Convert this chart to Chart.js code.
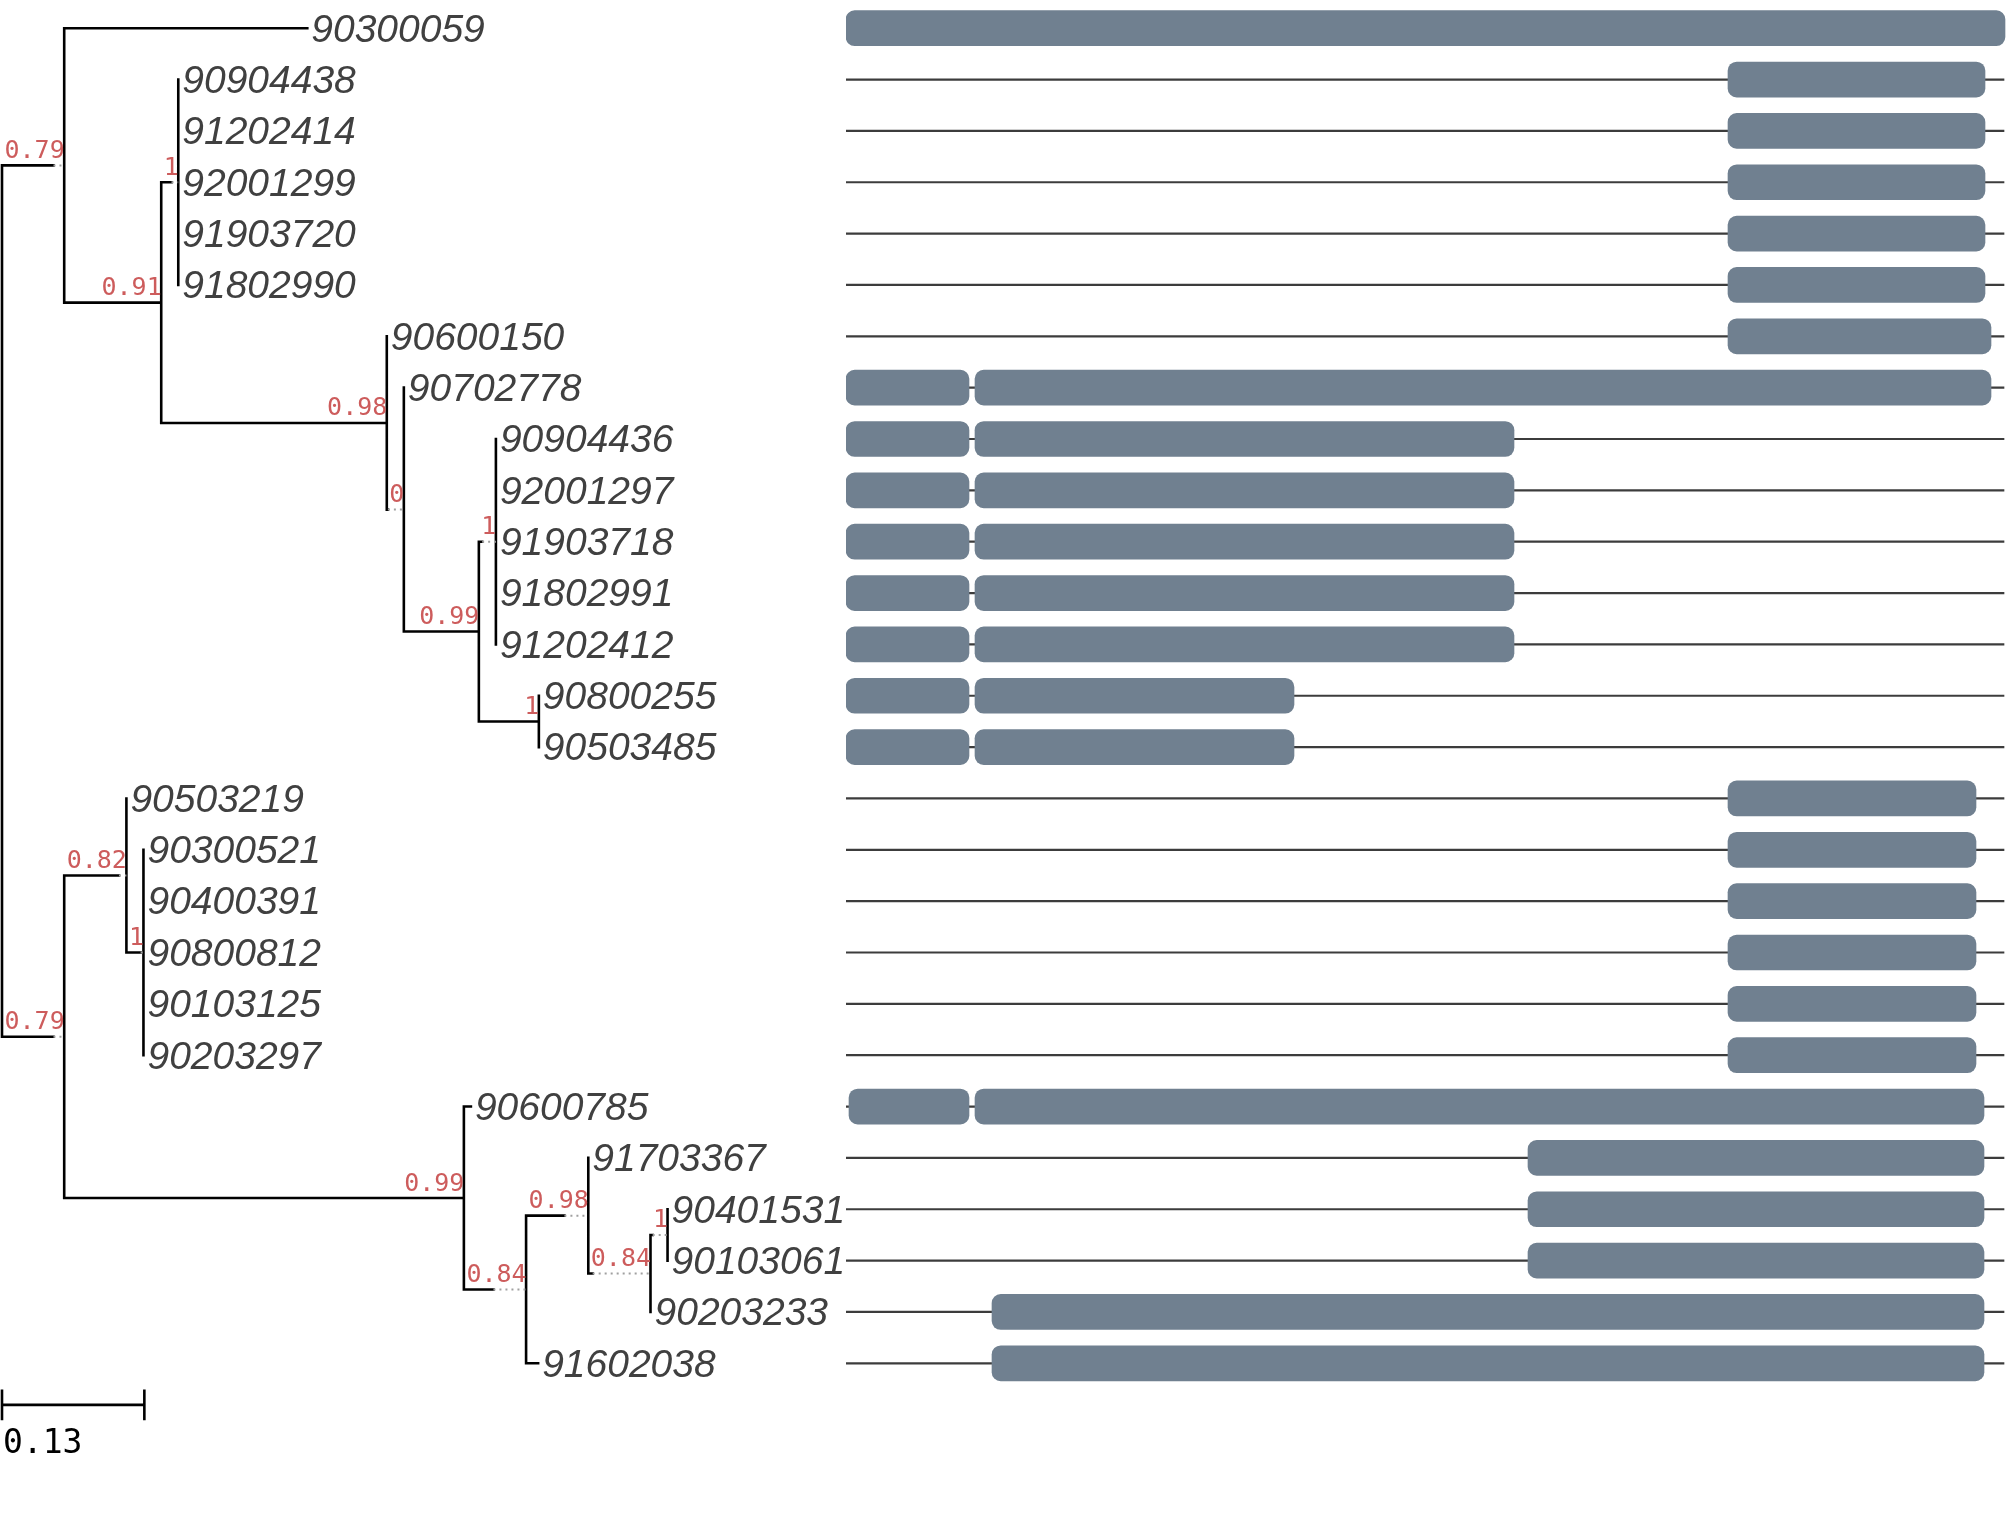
<!DOCTYPE html>
<html>
<head>
<meta charset="utf-8">
<script src="https://cdn.jsdelivr.net/npm/chart.js@4.4.0/dist/chart.umd.min.js"></script>
<style>
  html, body { margin: 0; padding: 0; background: #fff; }
  #wrap { position: relative; width: 2007px; height: 1534px; overflow: hidden; }
  #tree { position: absolute; left: 0; top: 0; }
  #genes { position: absolute; left: 846px; top: 0; }
</style>
</head>
<body>
<div id="wrap">
  <canvas id="tree" width="846" height="1534"></canvas>
  <canvas id="genes" width="1161" height="1534"></canvas>
</div>
<script>
// tree, nodes listed in preorder (leaves come out in row order)
var nodeNames = ["root", "A", "90300059", "n091", "n1a",
  "90904438", "91202414", "92001299", "91903720", "91802990",
  "n098", "90600150", "n0", "90702778", "n099a", "n1b",
  "90904436", "92001297", "91903718", "91802991", "91202412",
  "n1c", "90800255", "90503485",
  "B", "n082", "90503219", "n1d",
  "90300521", "90400391", "90800812", "90103125", "90203297",
  "n099b", "90600785", "n084a", "n098b", "91703367", "n084b", "n1e",
  "90401531", "90103061", "90203233", "91602038"];
var nodeParents = [null, "root", "A", "A", "n091",
  "n1a", "n1a", "n1a", "n1a", "n1a",
  "n091", "n098", "n098", "n0", "n0", "n099a",
  "n1b", "n1b", "n1b", "n1b", "n1b",
  "n099a", "n1c", "n1c",
  "root", "B", "n082", "n082",
  "n1d", "n1d", "n1d", "n1d", "n1d",
  "B", "n099b", "n099b", "n084a", "n098b", "n098b", "n084b",
  "n1e", "n1e", "n084b", "n084a"];
var nodeDists = [0, 0.047, 0.222, 0.0886, 0.0094,
  0, 0, 0, 0, 0,
  0.206, 0, 0.001, 0, 0.0685, 0.003,
  0, 0, 0, 0, 0,
  0.0548, 0, 0,
  0.047, 0.050, 0, 0.013,
  0, 0, 0, 0, 0,
  0.365, 0.0064, 0.027, 0.035, 0, 0.004, 0.002,
  0, 0, 0, 0.011];
var nodeSupport = [null, 0.79, null, 0.91, 1,
  null, null, null, null, null,
  0.98, null, 0, null, 0.99, 1,
  null, null, null, null, null,
  1, null, null,
  0.79, 0.82, null, 1,
  null, null, null, null, null,
  0.99, null, 0.84, 0.98, null, 0.84, 1,
  null, null, null, null];

var scaleBarValue = 0.13;

// gene structure: backbone length and domains per sequence
var geneLength = 1158;
var domainGene = ["90300059",
  "90904438", "91202414", "92001299", "91903720", "91802990",
  "90600150", "90702778", "90702778",
  "90904436", "90904436", "92001297", "92001297", "91903718", "91903718",
  "91802991", "91802991", "91202412", "91202412",
  "90800255", "90800255", "90503485", "90503485",
  "90503219", "90300521", "90400391", "90800812", "90103125", "90203297",
  "90600785", "90600785", "91703367", "90401531", "90103061",
  "90203233", "91602038"];
var domainStart = [0,
  882, 882, 882, 882, 882,
  882, 0, 129,
  0, 129, 0, 129, 0, 129,
  0, 129, 0, 129,
  0, 129, 0, 129,
  882, 882, 882, 882, 882, 882,
  3, 129, 682, 682, 682,
  146, 146];
var domainEnd = [1159,
  1139, 1139, 1139, 1139, 1139,
  1145, 123, 1145,
  123, 668, 123, 668, 123, 668,
  123, 668, 123, 668,
  123, 448, 123, 448,
  1130, 1130, 1130, 1130, 1130, 1130,
  123, 1138, 1138, 1138, 1138,
  1138, 1138];

// ---- layout constants
var H = 1534, TREE_W = 846, GENE_W = 1161;
var PX_PER_UNIT = 1095;
var ROW_H = 51.35, ROW0 = 28.2;
var yMin = -ROW0 / ROW_H, yMax = yMin + H / ROW_H;
var xMin = -2 / PX_PER_UNIT, xMax = xMin + TREE_W / PX_PER_UNIT;

var LEAF_FONT = "italic 39px 'Liberation Sans', Arial, sans-serif";
var SUPPORT_FONT = "25px 'DejaVu Sans Mono', monospace";
var SCALE_FONT = "33px 'DejaVu Sans Mono', monospace";

// ---- tree layout (ETE style: branch stretched with dots when the support label is wider)
var n = nodeNames.length;
var parentIdx = nodeParents.map(function (p) { return p === null ? -1 : nodeNames.indexOf(p); });
var children = nodeNames.map(function () { return []; });
parentIdx.forEach(function (p, i) { if (p >= 0) children[p].push(i); });

function supportText(i) { return nodeSupport[i] === null ? "" : String(nodeSupport[i]); }

var mctx = document.createElement("canvas").getContext("2d");
mctx.font = SUPPORT_FONT;

var nodeX = [], solidEnd = [], nodeY = [];
nodeX[0] = 0; solidEnd[0] = 0;
for (var i = 1; i < n; i++) {
  var p = parentIdx[i];
  var t = supportText(i);
  var lw = t ? (mctx.measureText(t).width + 2) / PX_PER_UNIT : 0;
  solidEnd[i] = nodeX[p] + nodeDists[i];
  nodeX[i] = nodeX[p] + Math.max(nodeDists[i], lw);
}
var leafOrder = [];
for (var i = 0; i < n; i++) {
  if (children[i].length === 0) { nodeY[i] = leafOrder.length; leafOrder.push(nodeNames[i]); }
}
for (var i = n - 1; i >= 0; i--) {
  var c = children[i];
  if (c.length) nodeY[i] = (nodeY[c[0]] + nodeY[c[c.length - 1]]) / 2;
}

var GAP = { x: NaN, y: NaN };
var solidPts = [], dotPts = [];
for (var i = 1; i < n; i++) {
  var p = parentIdx[i];
  if (solidEnd[i] > nodeX[p]) solidPts.push({ x: nodeX[p], y: nodeY[i] }, { x: solidEnd[i], y: nodeY[i] }, GAP);
  if (nodeX[i] > solidEnd[i] + 1e-9) dotPts.push({ x: solidEnd[i], y: nodeY[i] }, { x: nodeX[i], y: nodeY[i] }, GAP);
}
for (var i = 0; i < n; i++) {
  var c = children[i];
  if (c.length) solidPts.push({ x: nodeX[i], y: nodeY[c[0]] }, { x: nodeX[i], y: nodeY[c[c.length - 1]] }, GAP);
}
var sbY = leafOrder.length - 1 + 0.81, sbT = 0.3;
var scalePts = [
  { x: 0, y: sbY }, { x: scaleBarValue, y: sbY }, GAP,
  { x: 0, y: sbY - sbT }, { x: 0, y: sbY + sbT }, GAP,
  { x: scaleBarValue, y: sbY - sbT }, { x: scaleBarValue, y: sbY + sbT }
];

var treeLabels = {
  id: "treeLabels",
  afterDatasetsDraw: function (chart) {
    var ctx = chart.ctx, xs = chart.scales.x, ys = chart.scales.y;
    ctx.save();
    ctx.font = LEAF_FONT;
    ctx.fillStyle = "#404040";
    ctx.textAlign = "left";
    ctx.textBaseline = "middle";
    for (var i = 0; i < n; i++) {
      if (children[i].length) continue;
      ctx.fillText(nodeNames[i], xs.getPixelForValue(nodeX[i]) + 4, ys.getPixelForValue(nodeY[i]) + 2.5);
    }
    ctx.font = SUPPORT_FONT;
    ctx.fillStyle = "#cd5c5c";
    ctx.textAlign = "right";
    ctx.textBaseline = "alphabetic";
    for (var i = 1; i < n; i++) {
      var t = supportText(i);
      if (!t) continue;
      ctx.fillText(t, xs.getPixelForValue(nodeX[i]) + 0.5, ys.getPixelForValue(nodeY[i]) - 7.5);
    }
    ctx.font = SCALE_FONT;
    ctx.fillStyle = "#000";
    ctx.textAlign = "left";
    ctx.fillText(String(scaleBarValue), xs.getPixelForValue(0) + 1, ys.getPixelForValue(sbY) + 48);
    ctx.restore();
  }
};

new Chart(document.getElementById("tree"), {
  type: "scatter",
  data: {
    datasets: [
      { data: dotPts, showLine: true, borderColor: "#a0a0a0", borderWidth: 2, borderDash: [2, 4],
        pointRadius: 0, tension: 0, spanGaps: false },
      { data: solidPts, showLine: true, borderColor: "#000", borderWidth: 2.6, borderCapStyle: "square",
        pointRadius: 0, tension: 0, spanGaps: false },
      { data: scalePts, showLine: true, borderColor: "#000", borderWidth: 2.6,
        pointRadius: 0, tension: 0, spanGaps: false }
    ]
  },
  options: {
    responsive: false,
    animation: false,
    events: [],
    layout: { padding: 0 },
    plugins: { legend: { display: false }, tooltip: { enabled: false } },
    scales: {
      x: { type: "linear", display: false, min: xMin, max: xMax },
      y: { type: "linear", display: false, min: yMin, max: yMax, reverse: true }
    }
  },
  plugins: [treeLabels]
});

// ---- gene structure panel
var backbone = leafOrder.map(function (name, r) { return { y: r, x: [0, geneLength] }; });
var domains = domainGene.map(function (name, k) {
  return { y: leafOrder.indexOf(name), x: [domainStart[k], domainEnd[k]] };
});

new Chart(document.getElementById("genes"), {
  type: "bar",
  data: {
    datasets: [
      { data: backbone, backgroundColor: "#3c3c3c", barThickness: 1.5, grouped: false,
        borderSkipped: false, order: 2 },
      { data: domains, backgroundColor: "#708090", barThickness: 35, borderRadius: 9,
        borderSkipped: false, grouped: false, order: 1 }
    ]
  },
  options: {
    indexAxis: "y",
    responsive: false,
    animation: false,
    events: [],
    layout: { padding: 0 },
    plugins: { legend: { display: false }, tooltip: { enabled: false } },
    scales: {
      x: { type: "linear", display: false, min: 0, max: GENE_W },
      y: { type: "linear", display: false, min: yMin, max: yMax, reverse: true, offset: false }
    }
  }
});
</script>
</body>
</html>
